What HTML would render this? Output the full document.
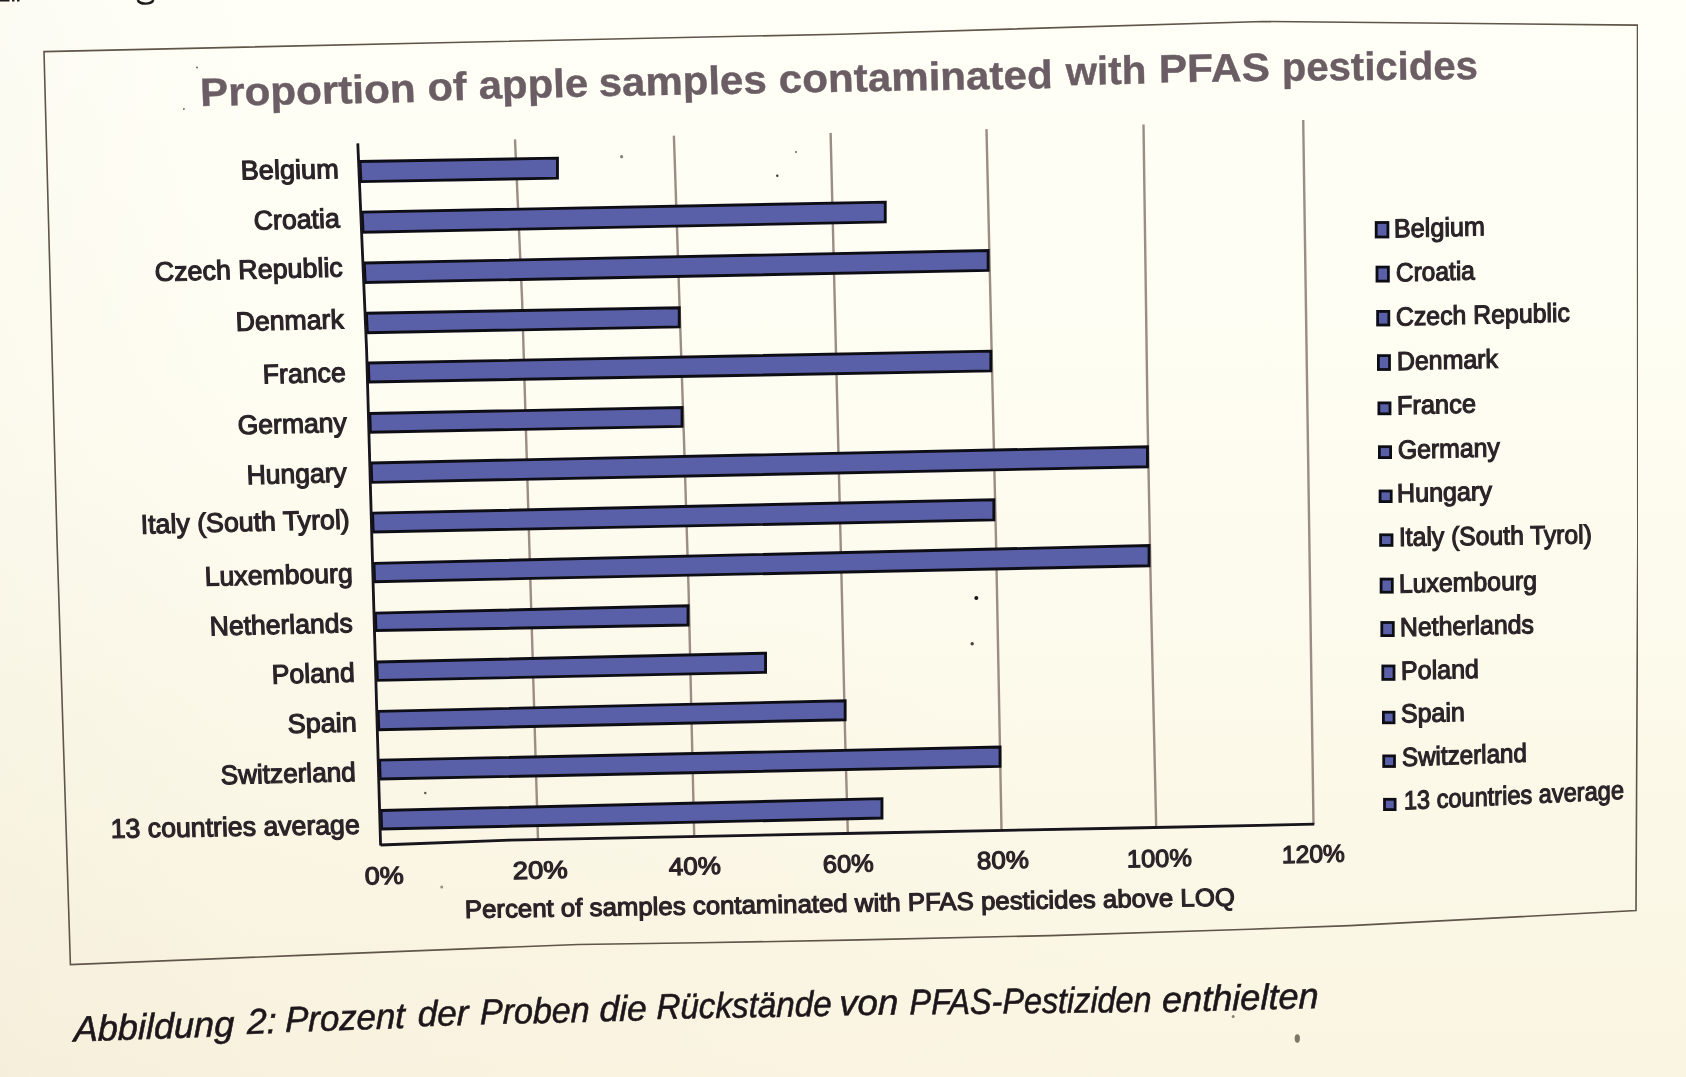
<!DOCTYPE html><html><head><meta charset="utf-8"><style>html,body{margin:0;padding:0;overflow:hidden;background:#fdfcf0}svg{display:block}text{font-family:"Liberation Sans",sans-serif}</style></head><body>
<svg width="1686" height="1077" viewBox="0 0 1686 1077">
<defs>
<linearGradient id="bg" x1="0" y1="0" x2="0" y2="1">
<stop offset="0" stop-color="#fffff7"/><stop offset="0.35" stop-color="#fefdf2"/><stop offset="0.7" stop-color="#fcf9e9"/><stop offset="1" stop-color="#faf5e2"/>
</linearGradient>
<linearGradient id="bgl" x1="0" y1="0" x2="1" y2="0">
<stop offset="0" stop-color="#8a7a50" stop-opacity="0.025"/><stop offset="0.15" stop-color="#8a7a50" stop-opacity="0"/>
</linearGradient>
<radialGradient id="bgbl" cx="0.1" cy="1.0" r="0.6">
<stop offset="0" stop-color="#b08a60" stop-opacity="0.035"/><stop offset="1" stop-color="#b08a60" stop-opacity="0"/>
</radialGradient>
<filter id="soft" x="0" y="0" width="1" height="1"><feGaussianBlur stdDeviation="0.55"/></filter>
</defs>
<rect width="1686" height="1077" fill="url(#bg)"/><rect width="1686" height="1077" fill="url(#bgl)"/><rect width="1686" height="1077" fill="url(#bgbl)"/>
<g filter="url(#soft)">
<path d="M0,0 H9.5 V1.6 H0 Z M12,0 H14.5 V1.5 H12 Z M17,0 H19.5 V1.5 H17 Z" fill="#1e1a1c"/>
<path d="M137.8,0 Q139,3.6 145.5,3.6 Q152,3.6 153.3,0" fill="none" stroke="#1e1a1c" stroke-width="2.4"/>
<polygon points="44,51.6 440,42.7 840,34.2 1263,21.5 1637.5,25.1 1637.8,540 1636,910.6 1350,925.6 1250,929.2 1050,935.6 860,939.9 700,942.8 578,944.5 300,955.4 70.4,964.6 57,540 44,51.6" fill="none" stroke="#5f5449" stroke-width="1.6" stroke-linejoin="miter"/>
<polyline points="515,139.4 522.1,300 538,839.5" fill="none" stroke="#9b8d83" stroke-width="2.4"/>
<polyline points="673.9,135.6 684,440 688.6,590 692,740 694.2,835.5" fill="none" stroke="#9b8d83" stroke-width="2.4"/>
<polyline points="830.6,132.9 841.8,590 845.2,740 847.8,832" fill="none" stroke="#9b8d83" stroke-width="2.4"/>
<polyline points="986.5,129.1 996,540 1001.5,829" fill="none" stroke="#9b8d83" stroke-width="2.4"/>
<polyline points="1143.5,124.4 1147.6,420 1151,600 1156.2,827" fill="none" stroke="#9b8d83" stroke-width="2.4"/>
<polyline points="1303.2,119.9 1313.5,824" fill="none" stroke="#9b8d83" stroke-width="2.4"/>
<polygon points="359.96,161.55 557.45,158.15 557.45,178.15 360.94,181.65" fill="#5a61a8" stroke="#110d16" stroke-width="2.9" stroke-linejoin="miter"/>
<polygon points="362.12,212.15 885.25,202.15 885.25,221.95 363.1,232.25" fill="#5a61a8" stroke="#110d16" stroke-width="2.9" stroke-linejoin="miter"/>
<polygon points="364.28,263.05 988.15,250.55 988.15,270.35 365.23,282.45" fill="#5a61a8" stroke="#110d16" stroke-width="2.9" stroke-linejoin="miter"/>
<polygon points="366.42,313.25 679.25,307.75 679.25,326.95 367.37,332.65" fill="#5a61a8" stroke="#110d16" stroke-width="2.9" stroke-linejoin="miter"/>
<polygon points="368.37,363.05 990.85,351.15 990.85,370.95 368.99,382.05" fill="#5a61a8" stroke="#110d16" stroke-width="2.9" stroke-linejoin="miter"/>
<polygon points="369.78,413.45 682.05,407.55 682.05,426.35 370.38,432.15" fill="#5a61a8" stroke="#110d16" stroke-width="2.9" stroke-linejoin="miter"/>
<polygon points="371.16,462.95 1147.45,446.85 1147.45,466.75 371.79,482.35" fill="#5a61a8" stroke="#110d16" stroke-width="2.9" stroke-linejoin="miter"/>
<polygon points="372.56,513.15 993.85,499.75 993.85,519.95 373.17,531.95" fill="#5a61a8" stroke="#110d16" stroke-width="2.9" stroke-linejoin="miter"/>
<polygon points="373.97,563.35 1149.05,545.55 1149.05,565.75 374.56,581.65" fill="#5a61a8" stroke="#110d16" stroke-width="2.9" stroke-linejoin="miter"/>
<polygon points="375.37,613.15 688.05,605.75 688.05,625.05 375.95,630.55" fill="#5a61a8" stroke="#110d16" stroke-width="2.9" stroke-linejoin="miter"/>
<polygon points="376.76,661.95 765.55,653.15 765.55,672.35 377.37,680.35" fill="#5a61a8" stroke="#110d16" stroke-width="2.9" stroke-linejoin="miter"/>
<polygon points="378.18,711.35 845.15,700.75 845.15,719.75 378.78,729.75" fill="#5a61a8" stroke="#110d16" stroke-width="2.9" stroke-linejoin="miter"/>
<polygon points="379.57,760.15 1000.05,747.05 1000.05,766.45 380.19,779.05" fill="#5a61a8" stroke="#110d16" stroke-width="2.9" stroke-linejoin="miter"/>
<polygon points="381.01,810.45 881.95,798.65 881.95,818.05 381.62,829.05" fill="#5a61a8" stroke="#110d16" stroke-width="2.9" stroke-linejoin="miter"/>
<polyline points="357.8,143.4 366.6,350 373.3,590 380.6,845.5" fill="none" stroke="#17121a" stroke-width="2.8"/>
<polyline points="380.6,845 510,840.2 870,833 1130,828 1314.3,824.2" fill="none" stroke="#17121a" stroke-width="2.8"/>
<text transform="matrix(0.99982 -0.01889 0.03554 1 202.10 106.00)" x="-1.60" y="0" font-size="39.68" font-weight="700" fill="#6b5d64" stroke="#6b5d64" stroke-width="0.4" textLength="215.54" lengthAdjust="spacingAndGlyphs">Proportion</text>
<text transform="matrix(0.99978 -0.02116 0.03267 1 429.00 100.80)" x="-1.00" y="0" font-size="39.68" font-weight="700" fill="#6b5d64" stroke="#6b5d64" stroke-width="0.4" textLength="39.01" lengthAdjust="spacingAndGlyphs">of</text>
<text transform="matrix(0.99982 -0.01888 0.03092 1 480.40 98.60)" x="-1.40" y="0" font-size="39.68" font-weight="700" fill="#6b5d64" stroke="#6b5d64" stroke-width="0.4" textLength="109.52" lengthAdjust="spacingAndGlyphs">apple</text>
<text transform="matrix(0.99986 -0.01699 0.02785 1 600.60 96.00)" x="-1.60" y="0" font-size="39.68" font-weight="700" fill="#6b5d64" stroke="#6b5d64" stroke-width="0.4" textLength="168.02" lengthAdjust="spacingAndGlyphs">samples</text>
<text transform="matrix(0.99986 -0.01671 0.02309 1 780.60 92.70)" x="-1.60" y="0" font-size="39.68" font-weight="700" fill="#6b5d64" stroke="#6b5d64" stroke-width="0.4" textLength="274.04" lengthAdjust="spacingAndGlyphs">contaminated</text>
<text transform="matrix(0.99979 -0.02033 0.01921 1 1065.40 85.20)" x="0.60" y="0" font-size="39.68" font-weight="700" fill="#6b5d64" stroke="#6b5d64" stroke-width="0.4" textLength="80.52" lengthAdjust="spacingAndGlyphs">with</text>
<text transform="matrix(0.99989 -0.01498 0.01695 1 1161.40 82.40)" x="-2.40" y="0" font-size="39.68" font-weight="700" fill="#6b5d64" stroke="#6b5d64" stroke-width="0.4" textLength="111.01" lengthAdjust="spacingAndGlyphs">PFAS</text>
<text transform="matrix(0.99997 -0.00780 0.01356 1 1284.20 80.70)" x="-2.20" y="0" font-size="39.68" font-weight="700" fill="#6b5d64" stroke="#6b5d64" stroke-width="0.4" textLength="196.01" lengthAdjust="spacingAndGlyphs">pesticides</text>
<text transform="matrix(0.99994 -0.01049 0.03596 1 242.40 179.40)" x="-1.40" y="0" font-size="26.89" font-weight="400" fill="#2a2327" stroke="#2a2327" stroke-width="1.15" textLength="98.01" lengthAdjust="spacingAndGlyphs">Belgium</text>
<text transform="matrix(0.99969 -0.02478 0.03584 1 255.50 229.60)" x="-1.50" y="0" font-size="26.89" font-weight="400" fill="#2a2327" stroke="#2a2327" stroke-width="1.15" textLength="86.03" lengthAdjust="spacingAndGlyphs">Croatia</text>
<text transform="matrix(0.99970 -0.02464 0.03689 1 155.70 281.10)" x="-0.70" y="0" font-size="26.89" font-weight="400" fill="#2a2327" stroke="#2a2327" stroke-width="1.15" textLength="188.06" lengthAdjust="spacingAndGlyphs">Czech Republic</text>
<text transform="matrix(0.99970 -0.02449 0.03606 1 238.00 330.90)" x="-2.00" y="0" font-size="26.89" font-weight="400" fill="#2a2327" stroke="#2a2327" stroke-width="1.15" textLength="108.03" lengthAdjust="spacingAndGlyphs">Denmark</text>
<text transform="matrix(0.99970 -0.02433 0.03582 1 264.40 383.50)" x="-1.40" y="0" font-size="26.89" font-weight="400" fill="#2a2327" stroke="#2a2327" stroke-width="1.15" textLength="83.02" lengthAdjust="spacingAndGlyphs">France</text>
<text transform="matrix(0.99971 -0.02419 0.03610 1 239.40 434.30)" x="-1.40" y="0" font-size="26.89" font-weight="400" fill="#2a2327" stroke="#2a2327" stroke-width="1.15" textLength="109.03" lengthAdjust="spacingAndGlyphs">Germany</text>
<text transform="matrix(0.99971 -0.02404 0.03603 1 249.10 484.10)" x="-2.10" y="0" font-size="26.89" font-weight="400" fill="#2a2327" stroke="#2a2327" stroke-width="1.15" textLength="100.03" lengthAdjust="spacingAndGlyphs">Hungary</text>
<text transform="matrix(0.99971 -0.02391 0.03714 1 143.20 533.60)" x="-2.20" y="0" font-size="26.89" font-weight="400" fill="#2a2327" stroke="#2a2327" stroke-width="1.15" textLength="209.06" lengthAdjust="spacingAndGlyphs">Italy (South Tyrol)</text>
<text transform="matrix(0.99972 -0.02375 0.03650 1 206.60 585.80)" x="-1.60" y="0" font-size="26.89" font-weight="400" fill="#2a2327" stroke="#2a2327" stroke-width="1.15" textLength="148.04" lengthAdjust="spacingAndGlyphs">Luxembourg</text>
<text transform="matrix(0.99972 -0.02361 0.03647 1 211.50 635.50)" x="-1.50" y="0" font-size="26.89" font-weight="400" fill="#2a2327" stroke="#2a2327" stroke-width="1.15" textLength="143.04" lengthAdjust="spacingAndGlyphs">Netherlands</text>
<text transform="matrix(0.99972 -0.02347 0.03585 1 273.50 683.60)" x="-1.50" y="0" font-size="26.89" font-weight="400" fill="#2a2327" stroke="#2a2327" stroke-width="1.15" textLength="83.02" lengthAdjust="spacingAndGlyphs">Poland</text>
<text transform="matrix(0.99973 -0.02332 0.03571 1 289.50 733.00)" x="-1.50" y="0" font-size="26.89" font-weight="400" fill="#2a2327" stroke="#2a2327" stroke-width="1.15" textLength="69.02" lengthAdjust="spacingAndGlyphs">Spain</text>
<text transform="matrix(0.99973 -0.02318 0.03644 1 222.50 784.20)" x="-1.50" y="0" font-size="26.89" font-weight="400" fill="#2a2327" stroke="#2a2327" stroke-width="1.15" textLength="135.04" lengthAdjust="spacingAndGlyphs">Switzerland</text>
<text transform="matrix(0.99987 -0.01632 0.03758 1 113.60 837.90)" x="-2.60" y="0" font-size="26.89" font-weight="400" fill="#2a2327" stroke="#2a2327" stroke-width="1.15" textLength="249.03" lengthAdjust="spacingAndGlyphs">13 countries average</text>
<text transform="matrix(0.99974 -0.02288 0.03453 1 365.90 884.60)" x="-0.90" y="0" font-size="24.71" font-weight="400" fill="#2a2327" stroke="#2a2327" stroke-width="1.15" textLength="39.01" lengthAdjust="spacingAndGlyphs">0%</text>
<text transform="matrix(0.99974 -0.02289 0.03126 1 514.60 879.10)" x="-1.60" y="0" font-size="24.71" font-weight="400" fill="#2a2327" stroke="#2a2327" stroke-width="1.15" textLength="55.01" lengthAdjust="spacingAndGlyphs">20%</text>
<text transform="matrix(0.99974 -0.02289 0.02806 1 668.90 875.20)" x="0.10" y="0" font-size="24.71" font-weight="400" fill="#2a2327" stroke="#2a2327" stroke-width="1.15" textLength="52.01" lengthAdjust="spacingAndGlyphs">40%</text>
<text transform="matrix(0.99974 -0.02289 0.02485 1 824.40 872.70)" x="-1.40" y="0" font-size="24.71" font-weight="400" fill="#2a2327" stroke="#2a2327" stroke-width="1.15" textLength="51.01" lengthAdjust="spacingAndGlyphs">60%</text>
<text transform="matrix(0.99974 -0.02289 0.02164 1 978.50 869.10)" x="-1.50" y="0" font-size="24.71" font-weight="400" fill="#2a2327" stroke="#2a2327" stroke-width="1.15" textLength="52.01" lengthAdjust="spacingAndGlyphs">80%</text>
<text transform="matrix(0.99974 -0.02288 0.01838 1 1128.40 867.50)" x="-1.40" y="0" font-size="24.71" font-weight="400" fill="#2a2327" stroke="#2a2327" stroke-width="1.15" textLength="65.02" lengthAdjust="spacingAndGlyphs">100%</text>
<text transform="matrix(0.99974 -0.02288 0.01516 1 1283.80 863.20)" x="-1.80" y="0" font-size="24.71" font-weight="400" fill="#2a2327" stroke="#2a2327" stroke-width="1.15" textLength="63.02" lengthAdjust="spacingAndGlyphs">120%</text>
<text transform="matrix(0.99987 -0.01616 0.02484 1 466.90 918.00)" x="-1.90" y="0" font-size="25.00" font-weight="400" fill="#2a2327" stroke="#2a2327" stroke-width="1.15" textLength="770.10" lengthAdjust="spacingAndGlyphs">Percent of samples contaminated with PFAS pesticides above LOQ</text>
<text transform="matrix(0.99970 -0.02467 0.01238 1 1395.70 237.50)" x="-1.70" y="0" font-size="26.16" font-weight="400" fill="#2a2327" stroke="#2a2327" stroke-width="1.15" textLength="91.03" lengthAdjust="spacingAndGlyphs">Belgium</text>
<text transform="matrix(0.99970 -0.02455 0.01247 1 1397.00 281.40)" x="-1.00" y="0" font-size="26.16" font-weight="400" fill="#2a2327" stroke="#2a2327" stroke-width="1.15" textLength="79.02" lengthAdjust="spacingAndGlyphs">Croatia</text>
<text transform="matrix(0.99970 -0.02442 0.01151 1 1397.00 325.70)" x="-1.00" y="0" font-size="26.16" font-weight="400" fill="#2a2327" stroke="#2a2327" stroke-width="1.15" textLength="174.05" lengthAdjust="spacingAndGlyphs">Czech Republic</text>
<text transform="matrix(0.99970 -0.02429 0.01224 1 1398.40 370.10)" x="-1.40" y="0" font-size="26.16" font-weight="400" fill="#2a2327" stroke="#2a2327" stroke-width="1.15" textLength="101.03" lengthAdjust="spacingAndGlyphs">Denmark</text>
<text transform="matrix(0.99971 -0.02416 0.01250 1 1398.40 414.40)" x="-1.40" y="0" font-size="26.16" font-weight="400" fill="#2a2327" stroke="#2a2327" stroke-width="1.15" textLength="79.02" lengthAdjust="spacingAndGlyphs">France</text>
<text transform="matrix(0.99971 -0.02404 0.01224 1 1399.30 458.70)" x="-1.30" y="0" font-size="26.16" font-weight="400" fill="#2a2327" stroke="#2a2327" stroke-width="1.15" textLength="102.03" lengthAdjust="spacingAndGlyphs">Germany</text>
<text transform="matrix(0.99971 -0.02391 0.01234 1 1399.30 502.10)" x="-2.30" y="0" font-size="26.16" font-weight="400" fill="#2a2327" stroke="#2a2327" stroke-width="1.15" textLength="95.03" lengthAdjust="spacingAndGlyphs">Hungary</text>
<text transform="matrix(0.99991 -0.01318 0.01130 1 1400.90 545.90)" x="-1.90" y="0" font-size="26.16" font-weight="400" fill="#2a2327" stroke="#2a2327" stroke-width="1.15" textLength="193.02" lengthAdjust="spacingAndGlyphs">Italy (South Tyrol)</text>
<text transform="matrix(0.99972 -0.02365 0.01189 1 1400.90 592.70)" x="-1.90" y="0" font-size="26.16" font-weight="400" fill="#2a2327" stroke="#2a2327" stroke-width="1.15" textLength="138.04" lengthAdjust="spacingAndGlyphs">Luxembourg</text>
<text transform="matrix(0.99972 -0.02353 0.01191 1 1401.80 636.20)" x="-1.80" y="0" font-size="26.16" font-weight="400" fill="#2a2327" stroke="#2a2327" stroke-width="1.15" textLength="134.04" lengthAdjust="spacingAndGlyphs">Netherlands</text>
<text transform="matrix(0.99973 -0.02340 0.01250 1 1402.60 679.60)" x="-1.60" y="0" font-size="26.16" font-weight="400" fill="#2a2327" stroke="#2a2327" stroke-width="1.15" textLength="78.02" lengthAdjust="spacingAndGlyphs">Poland</text>
<text transform="matrix(0.99973 -0.02328 0.01265 1 1402.40 722.40)" x="-1.40" y="0" font-size="26.16" font-weight="400" fill="#2a2327" stroke="#2a2327" stroke-width="1.15" textLength="64.02" lengthAdjust="spacingAndGlyphs">Spain</text>
<text transform="matrix(0.99929 -0.03774 0.01201 1 1403.20 766.30)" x="-1.20" y="0" font-size="26.16" font-weight="400" fill="#2a2327" stroke="#2a2327" stroke-width="1.15" textLength="125.09" lengthAdjust="spacingAndGlyphs">Switzerland</text>
<text transform="matrix(0.99884 -0.04824 0.01098 1 1405.50 809.50)" x="-1.50" y="0" font-size="26.16" font-weight="400" fill="#2a2327" stroke="#2a2327" stroke-width="1.15" textLength="220.25" lengthAdjust="spacingAndGlyphs">13 countries average</text>
<text transform="matrix(0.99942 -0.03406 0.00000 1 72.30 1041.50)" x="1.40" y="0" font-size="35.90" font-weight="400" fill="#1d191b" stroke="#1d191b" stroke-width="0.6" font-style="italic" textLength="160.69" lengthAdjust="spacingAndGlyphs">Abbildung</text>
<text transform="matrix(0.99950 -0.03167 0.00000 1 247.00 1033.90)" x="0.00" y="0" font-size="35.90" font-weight="400" fill="#1d191b" stroke="#1d191b" stroke-width="0.6" font-style="italic" textLength="29.61" lengthAdjust="spacingAndGlyphs">2:</text>
<text transform="matrix(0.99944 -0.03351 0.00000 1 286.80 1032.00)" x="-1.60" y="0" font-size="35.90" font-weight="400" fill="#1d191b" stroke="#1d191b" stroke-width="0.6" font-style="italic" textLength="119.77" lengthAdjust="spacingAndGlyphs">Prozent</text>
<text transform="matrix(0.99976 -0.02186 0.00000 1 419.30 1026.10)" x="-1.60" y="0" font-size="35.90" font-weight="400" fill="#1d191b" stroke="#1d191b" stroke-width="0.6" font-style="italic" textLength="50.71" lengthAdjust="spacingAndGlyphs">der</text>
<text transform="matrix(0.99979 -0.02050 0.00000 1 481.00 1024.20)" x="-1.00" y="0" font-size="35.90" font-weight="400" fill="#1d191b" stroke="#1d191b" stroke-width="0.6" font-style="italic" textLength="109.72" lengthAdjust="spacingAndGlyphs">Proben</text>
<text transform="matrix(0.99984 -0.01793 0.00000 1 600.60 1021.30)" x="-1.20" y="0" font-size="35.90" font-weight="400" fill="#1d191b" stroke="#1d191b" stroke-width="0.6" font-style="italic" textLength="47.41" lengthAdjust="spacingAndGlyphs">die</text>
<text transform="matrix(0.99986 -0.01679 0.00000 1 657.60 1018.90)" x="-1.20" y="0" font-size="35.90" font-weight="400" fill="#1d191b" stroke="#1d191b" stroke-width="0.6" font-style="italic" textLength="175.32" lengthAdjust="spacingAndGlyphs">Rückstände</text>
<text transform="matrix(0.99994 -0.01091 0.00000 1 841.70 1015.10)" x="-2.40" y="0" font-size="35.90" font-weight="400" fill="#1d191b" stroke="#1d191b" stroke-width="0.6" font-style="italic" textLength="59.00" lengthAdjust="spacingAndGlyphs">von</text>
<text transform="matrix(0.99993 -0.01166 0.00000 1 910.40 1014.60)" x="-0.80" y="0" font-size="35.90" font-weight="400" fill="#1d191b" stroke="#1d191b" stroke-width="0.6" font-style="italic" textLength="241.92" lengthAdjust="spacingAndGlyphs">PFAS-Pestiziden</text>
<text transform="matrix(0.99965 -0.02658 0.00000 1 1163.10 1012.10)" x="-1.20" y="0" font-size="35.90" font-weight="400" fill="#1d191b" stroke="#1d191b" stroke-width="0.6" font-style="italic" textLength="156.85" lengthAdjust="spacingAndGlyphs">enthielten</text>
<rect x="1376.20" y="222.50" width="11.70" height="14.50" fill="#5a61a8" stroke="#110d16" stroke-width="2.8"/>
<rect x="1377.00" y="267.10" width="11.40" height="14.00" fill="#5a61a8" stroke="#110d16" stroke-width="2.8"/>
<rect x="1377.60" y="311.40" width="11.20" height="13.60" fill="#5a61a8" stroke="#110d16" stroke-width="2.8"/>
<rect x="1378.40" y="355.60" width="11.10" height="13.90" fill="#5a61a8" stroke="#110d16" stroke-width="2.8"/>
<rect x="1378.90" y="402.90" width="11.10" height="10.90" fill="#5a61a8" stroke="#110d16" stroke-width="2.8"/>
<rect x="1379.40" y="446.70" width="11.20" height="10.90" fill="#5a61a8" stroke="#110d16" stroke-width="2.8"/>
<rect x="1380.10" y="491.00" width="11.10" height="10.60" fill="#5a61a8" stroke="#110d16" stroke-width="2.8"/>
<rect x="1380.60" y="534.80" width="11.40" height="10.60" fill="#5a61a8" stroke="#110d16" stroke-width="2.8"/>
<rect x="1381.10" y="579.10" width="11.20" height="13.10" fill="#5a61a8" stroke="#110d16" stroke-width="2.8"/>
<rect x="1381.80" y="622.50" width="11.50" height="13.10" fill="#5a61a8" stroke="#110d16" stroke-width="2.8"/>
<rect x="1382.80" y="666.00" width="11.20" height="13.40" fill="#5a61a8" stroke="#110d16" stroke-width="2.8"/>
<rect x="1383.40" y="712.20" width="10.60" height="10.60" fill="#5a61a8" stroke="#110d16" stroke-width="2.8"/>
<rect x="1383.70" y="755.90" width="10.80" height="10.60" fill="#5a61a8" stroke="#110d16" stroke-width="2.8"/>
<rect x="1384.50" y="799.30" width="10.60" height="10.30" fill="#5a61a8" stroke="#110d16" stroke-width="2.8"/>
<ellipse cx="1297.3" cy="1038.5" rx="2.6" ry="4.2" fill="#7d7568"/>
<circle cx="1233.2" cy="1016.5" r="1.5" fill="#8a8070"/>
<circle cx="976.3" cy="597.9" r="2.0" fill="#1a1614"/>
<circle cx="972.2" cy="643.8" r="1.7" fill="#4a4238"/>
<circle cx="441.7" cy="887" r="1.5" fill="#9a9080"/>
<circle cx="621.6" cy="156.7" r="1.6" fill="#8a8274"/>
<circle cx="197" cy="67.6" r="1.0" fill="#6a625a"/>
<circle cx="183.9" cy="109" r="1.0" fill="#7a7268"/>
<circle cx="425.3" cy="793" r="1.2" fill="#5a5248"/>
<circle cx="777.3" cy="175.8" r="1.2" fill="#3a3430"/>
<circle cx="796" cy="152" r="1.0" fill="#6a625a"/>
</g></svg></body></html>
